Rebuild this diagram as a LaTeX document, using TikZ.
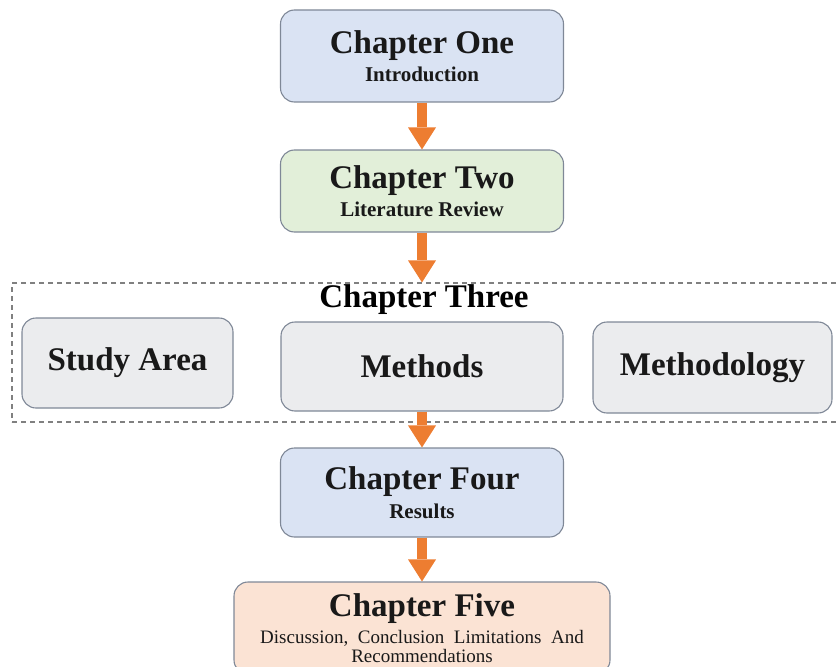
\documentclass[tikz,border=0pt]{standalone}
\usepackage{fontspec}
\setmainfont{Liberation Serif}
\usetikzlibrary{arrows.meta}

\definecolor{chblue}{HTML}{DAE3F3}
\definecolor{chgreen}{HTML}{E2EFD9}
\definecolor{chgray}{HTML}{EBECEE}
\definecolor{chpeach}{HTML}{FBE3D4}
\definecolor{boxline}{HTML}{7F8897}
\definecolor{flowcol}{HTML}{ED7D31}

\newcommand{\ctitle}[1]{{\fontsize{33}{36}\selectfont\bfseries #1}}
\newcommand{\csub}[1]{{\fontsize{21}{24}\selectfont\bfseries #1}}

\begin{document}
\begin{tikzpicture}[x=1pt,y=-1pt,
    chapbox/.style={draw=boxline, line width=1.1pt, rounded corners=14pt,
        align=center, inner sep=0pt, text=black!90},
    flow/.style={draw=flowcol, line width=10pt,
        -{Triangle[length=22pt,width=28pt,line width=0pt]}}]
\useasboundingbox (0,0) rectangle (837,666);
\clip (0,0) rectangle (837,666);

\node[chapbox, fill=chblue, minimum width=283pt, minimum height=92pt] (one) at (422,56)
    {\ctitle{Chapter One}\\[6pt]\csub{Introduction}};
\node[chapbox, fill=chgreen, minimum width=283pt, minimum height=82pt] (two) at (422,191)
    {\ctitle{Chapter Two}\\[6pt]\csub{Literature Review}};

% chapter three frame
\node[draw=black!50, line width=1.1pt, dash pattern=on 5pt off 4pt,
    minimum width=833pt, minimum height=139pt, inner sep=0pt] (three) at (428.5,352.5) {};
\node (threelbl) at (424,300) {\ctitle{Chapter Three}};
\node[chapbox, fill=chgray, minimum width=211pt, minimum height=90pt] (area) at (127.5,363)
    {\ctitle{Study Area}};
\node[chapbox, fill=chgray, minimum width=282pt, minimum height=89pt] (meth) at (422,366.5)
    {\ctitle{Methods}};
\node[chapbox, fill=chgray, minimum width=239pt, minimum height=91pt] (methgy) at (712.5,367.5)
    {\ctitle{Methodology}};

\node[chapbox, fill=chblue, minimum width=283pt, minimum height=89pt] (four) at (422,492.5)
    {\ctitle{Chapter Four}\\[6pt]\csub{Results}};
\node[chapbox, fill=chpeach, minimum width=376pt, minimum height=92pt] (five) at (422,628)
    {\ctitle{Chapter Five}\\[6pt]{\fontsize{19}{21}\selectfont Discussion,\ \ Conclusion\ \ Limitations\ \ And}\\[1pt]{\fontsize{19}{21}\selectfont Recommendations}};

\draw[flow] (one) -- (two);
\draw[flow] (two) -- (two.south |- three.north);
\draw[flow] (meth) -- (four);
\draw[flow] (four) -- (five);
\end{tikzpicture}
\end{document}
